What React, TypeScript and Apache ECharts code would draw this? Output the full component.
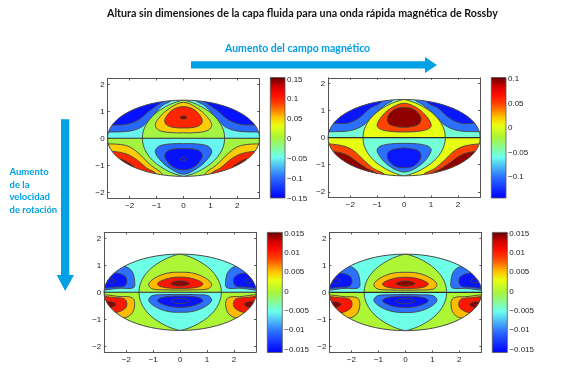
import React, { useEffect, useRef } from "react";
import * as echarts from "echarts";

type Pt = [number, number];
type Region = { pts?: Pt[]; base?: boolean; value: number; half: "top" | "bottom" };

const titleText = "Altura sin dimensiones de la capa fluida para una onda rápida magnética de Rossby";
const magneticText = "Aumento del campo magnético";
const rotationText = "Aumento\nde la\nvelocidad\nde rotación";

const xTicks = [-2, -1, 0, 1, 2];
const yTicks = [-2, -1, 0, 1, 2];
const xLimit = 2.82;
const yLimit = 2.21;
const ellipseAxes: Pt = [2.83, 1.41];

// Colour scale of the colour bars
const colorScale: [number, string][] = [
  [0, "#0000ff"], [0.17, "#2a6cff"], [0.34, "#6cffee"], [0.5, "#a6f53a"], [0.6, "#e8ff12"],
  [0.67, "#ffc400"], [0.78, "#ff4400"], [0.85, "#ff1000"], [0.92, "#d80000"], [1, "#680000"],
];

// Contours, in the axis units of the plots
const lensRight: Pt[] = [
  [0, 1.41], [0.17, 1.37], [0.48, 1.26], [0.86, 1.05], [1.15, 0.82], [1.36, 0.56], [1.49, 0.28], [1.53, 0],
  [1.49, -0.28], [1.36, -0.56], [1.15, -0.82], [0.86, -1.05], [0.48, -1.26], [0.17, -1.37], [0, -1.41],
];

const aBlueEdge: Pt[] = [[-2.78, 0.23], [-1.98, 0.27], [-1.54, 0.43], [-1.17, 0.8], [-0.8, 1.2], [-0.43, 1.42]];
const aDeepEdge: Pt[] = [[-2.59, 0.49], [-2.1, 0.52], [-1.67, 0.68], [-1.3, 0.99], [-0.86, 1.3], [-0.7, 1.42]];
const aOrangeEdge: Pt[] = [[-2.78, -0.21], [-2.35, -0.23], [-1.98, -0.33], [-1.6, -0.62], [-1.23, -0.99], [-0.8, -1.32]];
const aRedEdge: Pt[] = [[-2.59, -0.49], [-2.1, -0.59], [-1.73, -0.8], [-1.36, -1.11], [-1.01, -1.32]];
const aDarkEdge: Pt[] = [[-2.32, -0.78], [-2.05, -0.9], [-1.8, -1.12]];
const aOuterRight: Pt[] = [[0, 1.33], [0.5, 1.12], [0.87, 0.8], [1.05, 0.5], [0.92, 0.3], [0.5, 0.21], [0, 0.2]];
const aInnerRight: Pt[] = [[0, 1.17], [0.37, 1.07], [0.6, 0.86], [0.7, 0.65], [0.62, 0.49], [0.37, 0.4], [0, 0.38]];
const aCoreRight: Pt[] = [[0, 0.83], [0.09, 0.81], [0.13, 0.77], [0.09, 0.73], [0, 0.71]];

const bBlueEdge: Pt[] = [[-2.78, 0.22], [-2, 0.26], [-1.5, 0.47], [-1.14, 0.84], [-0.7, 1.21], [-0.4, 1.4]];
const bDeepEdge: Pt[] = [[-2.56, 0.53], [-2.12, 0.53], [-1.69, 0.72], [-1.26, 1.09], [-0.83, 1.33]];
const bOrangeEdge: Pt[] = [[-2.8, -0.23], [-2.25, -0.31], [-1.88, -0.48], [-1.5, -0.83], [-1.14, -1.14], [-0.7, -1.38]];
const bDarkEdge: Pt[] = [[-2.56, -0.52], [-2.12, -0.64], [-1.75, -0.89], [-1.38, -1.14], [-1.01, -1.35]];
const bOuterRight: Pt[] = [[0, 1.27], [0.35, 1.17], [0.7, 0.93], [0.95, 0.62], [1.0, 0.42], [0.85, 0.3], [0.5, 0.23], [0, 0.21]];
const bInnerRight: Pt[] = [[0, 1.11], [0.3, 1.07], [0.55, 0.88], [0.63, 0.68], [0.55, 0.5], [0.3, 0.41], [0, 0.38]];

const cOuterRight: Pt[] = [[0, 0.74], [0.5, 0.7], [0.95, 0.52], [1.17, 0.3], [1.05, 0.13], [0.6, 0.09], [0, 0.08]];
const cInnerRight: Pt[] = [[0, 0.56], [0.4, 0.52], [0.75, 0.4], [0.85, 0.3], [0.7, 0.2], [0.35, 0.15], [0, 0.14]];
const cCoreRight: Pt[] = [[0, 0.42], [0.2, 0.4], [0.35, 0.32], [0.2, 0.25], [0, 0.23]];
const cSideBlue: Pt[] = [[-3.1, 0.95], [-2.06, 0.95], [-1.79, 0.77], [-1.69, 0.4], [-1.73, 0.17], [-2.2, 0.15], [-3.1, 0.15]];
const cSideDeep: Pt[] = [[-3.1, 0.72], [-2.32, 0.7], [-2.04, 0.58], [-1.98, 0.4], [-2.07, 0.23], [-2.4, 0.19], [-3.1, 0.19]];
const cSideCore: Pt[] = [[-2.57, 0.52], [-2.42, 0.42], [-2.57, 0.34], [-2.72, 0.42]];
const cSideOrange: Pt[] = [[-3.1, -0.95], [-2.1, -0.95], [-1.79, -0.78], [-1.69, -0.41], [-1.79, -0.2], [-2.2, -0.16], [-3.1, -0.16]];
const cSideRed: Pt[] = [[-3.1, -0.74], [-2.35, -0.74], [-2.04, -0.59], [-1.98, -0.41], [-2.07, -0.25], [-2.4, -0.2], [-3.1, -0.2]];
const cSideDark: Pt[] = [[-3.1, -0.42], [-2.78, -0.36], [-2.55, -0.35], [-2.38, -0.44], [-2.55, -0.55], [-3.1, -0.5]];

// Filled levels and colour-bar ticks of each plot
const aLevels = [-0.142, -0.1, -0.05, 0, 0.05, 0.1, 0.146];
const bLevels = [-0.134, -0.1, -0.054, 0.004, 0.049, 0.096];
const cLevels = [-0.0148, -0.0103, -0.0051, 0, 0.0052, 0.0103, 0.0145];
const aBarRange: Pt = [-0.15, 0.154];
const bBarRange: Pt = [-0.143, 0.103];
const cBarRange: Pt = [-0.0158, 0.0152];
const aBarTicks = [-0.15, -0.1, -0.05, 0, 0.05, 0.1, 0.15];
const bBarTicks = [-0.1, -0.05, 0, 0.05, 0.1];
const cBarTicks = [-0.015, -0.01, -0.005, 0, 0.005, 0.01, 0.015];

const mirrored = (half: Pt[]): Pt[] => [...half, ...half.slice(1, -1).reverse().map(([x, y]) => [-x, y] as Pt)];
const flipY = (p: Pt[]): Pt[] => p.map(([x, y]) => [x, -y] as Pt);
const flipX = (p: Pt[]): Pt[] => p.map(([x, y]) => [-x, y] as Pt);
const leftClosed = (edge: Pt[], up: number): Pt[] => [
  [-3.2, edge[0][1]], ...edge, [edge[edge.length - 1][0], up * 1.7], [-3.2, up * 1.7],
];
const both = (p: Pt[], value: number, half: "top" | "bottom"): Region[] => [
  { pts: p, value, half }, { pts: flipX(p), value, half },
];
const closed = (pts: Pt[], value: number, half: "top" | "bottom"): Region => ({ pts, value, half });

const lens = mirrored(lensRight);

const aRegions: Region[] = [
  { base: true, value: aLevels[2], half: "top" },
  ...both(leftClosed(aBlueEdge, 1), aLevels[1], "top"),
  ...both(leftClosed(aDeepEdge, 1), aLevels[0], "top"),
  closed(lens, aLevels[3], "top"),
  closed(mirrored(aOuterRight), aLevels[4], "top"),
  closed(mirrored(aInnerRight), aLevels[5], "top"),
  closed(mirrored(aCoreRight), aLevels[6], "top"),
  { base: true, value: aLevels[3], half: "bottom" },
  ...both(leftClosed(aOrangeEdge, -1), aLevels[4], "bottom"),
  ...both(leftClosed(aRedEdge, -1), aLevels[5], "bottom"),
  ...both(leftClosed(aDarkEdge, -1), aLevels[6], "bottom"),
  closed(lens, aLevels[2], "bottom"),
  closed(flipY(mirrored(aOuterRight)), aLevels[1], "bottom"),
  closed(flipY(mirrored(aInnerRight)), aLevels[0], "bottom"),
  closed(flipY(mirrored(aCoreRight)), aLevels[0], "bottom"),
];

const bRegions: Region[] = [
  { base: true, value: bLevels[2], half: "top" },
  ...both(leftClosed(bBlueEdge, 1), bLevels[1], "top"),
  ...both(leftClosed(bDeepEdge, 1), bLevels[0], "top"),
  closed(lens, bLevels[3], "top"),
  closed(mirrored(bOuterRight), bLevels[4], "top"),
  closed(mirrored(bInnerRight), bLevels[5], "top"),
  { base: true, value: bLevels[3], half: "bottom" },
  ...both(leftClosed(bOrangeEdge, -1), bLevels[4], "bottom"),
  ...both(leftClosed(bDarkEdge, -1), bLevels[5], "bottom"),
  closed(lens, bLevels[2], "bottom"),
  closed(flipY(mirrored(bOuterRight)), bLevels[1], "bottom"),
  closed(flipY(mirrored(bInnerRight)), bLevels[0], "bottom"),
];

const cRegions: Region[] = [
  { base: true, value: cLevels[2], half: "top" },
  ...both(cSideBlue, cLevels[1], "top"),
  ...both(cSideDeep, cLevels[0], "top"),
  ...both(cSideCore, cLevels[0], "top"),
  closed(lens, cLevels[3], "top"),
  closed(mirrored(cOuterRight), cLevels[4], "top"),
  closed(mirrored(cInnerRight), cLevels[5], "top"),
  closed(mirrored(cCoreRight), cLevels[6], "top"),
  { base: true, value: cLevels[3], half: "bottom" },
  ...both(cSideOrange, cLevels[4], "bottom"),
  ...both(cSideRed, cLevels[5], "bottom"),
  ...both(cSideDark, cLevels[6], "bottom"),
  closed(lens, cLevels[2], "bottom"),
  closed(flipY(mirrored(cOuterRight)), cLevels[1], "bottom"),
  closed(flipY(mirrored(cInnerRight)), cLevels[0], "bottom"),
  closed(flipY(mirrored(cCoreRight)), cLevels[0], "bottom"),
];

const panels = [
  { regions: aRegions, range: aBarRange, barTicks: aBarTicks, frame: [107.7, 78.5, 151.6, 119.5], bar: [270.3, 77.5, 14.7, 120.5] },
  { regions: bRegions, range: bBarRange, barTicks: bBarTicks, frame: [328.3, 77.8, 151.7, 119.7], bar: [491.3, 77.5, 14.7, 120.5] },
  { regions: cRegions, range: cBarRange, barTicks: cBarTicks, frame: [104.3, 232.4, 151.7, 119.7], bar: [267.3, 232.4, 15, 120] },
  { regions: cRegions, range: cBarRange, barTicks: cBarTicks, frame: [329.4, 232.4, 152, 120], bar: [492.3, 232.4, 15, 120] },
];

const LINE = "#444";
const AXIS = "#555";
const LABEL = "#222";
const FONT = "Liberation Sans";
const BLUE = "#00a0e6";

const hex = (s: string) => [1, 3, 5].map((i) => parseInt(s.slice(i, i + 2), 16));
function scaleColor(t: number) {
  for (let i = 1; i < colorScale.length; i++) {
    const [t1, c1] = colorScale[i];
    const [t0, c0] = colorScale[i - 1];
    if (t <= t1) {
      const f = (t - t0) / (t1 - t0);
      const a = hex(c0), b = hex(c1);
      return `rgb(${a.map((v, k) => Math.round(v + (b[k] - v) * f)).join(",")})`;
    }
  }
  return colorScale[colorScale.length - 1][1];
}
const signed = (v: number) => String(v).replace("-", "\u2212");

function buildOption() {
  const grid: any[] = [], xAxis: any[] = [], yAxis: any[] = [], series: any[] = [];
  panels.forEach((p) => {
    const g = grid.length;
    grid.push({ left: p.frame[0], top: p.frame[1], width: p.frame[2], height: p.frame[3] });
    const line = { show: true, onZero: false, lineStyle: { color: AXIS, width: 1 } };
    const labelStyle = { color: LABEL, fontSize: 8, fontFamily: FONT, formatter: signed };
    const xIndex = xAxis.length, yIndex = yAxis.length;
    [false, true].forEach((twin) => {
      xAxis.push({
        type: "value", gridIndex: g, min: -xLimit, max: xLimit, position: twin ? "top" : "bottom",
        axisLine: line, splitLine: { show: false },
        axisTick: { show: true, inside: true, length: 2, customValues: xTicks, lineStyle: { color: AXIS } },
        axisLabel: twin ? { show: false } : { ...labelStyle, margin: 3, customValues: xTicks },
      });
      yAxis.push({
        type: "value", gridIndex: g, min: -yLimit, max: yLimit, position: twin ? "right" : "left",
        axisLine: line, splitLine: { show: false },
        axisTick: { show: true, inside: true, length: 2, customValues: yTicks, lineStyle: { color: AXIS } },
        axisLabel: twin ? { show: false } : { ...labelStyle, margin: 3, customValues: yTicks },
      });
    });

    const regionList = p.regions;
    const [lo, hi] = p.range;
    series.push({
      type: "custom", xAxisIndex: xIndex, yAxisIndex: yIndex, clip: false, silent: true,
      data: regionList.map((r, k) => [k, r.value]),
      renderItem: (_: any, api: any) => {
        const r = regionList[api.value(0)];
        const fill = scaleColor((r.value - lo) / (hi - lo));
        const c = api.coord([0, 0]);
        const e = api.coord(ellipseAxes);
        const tl = api.coord([-xLimit, yLimit]);
        const br = api.coord([xLimit, -yLimit]);
        const halfRect = r.half === "top"
          ? { x: tl[0], y: tl[1], width: br[0] - tl[0], height: c[1] - tl[1] }
          : { x: tl[0], y: c[1], width: br[0] - tl[0], height: br[1] - c[1] };
        const shape = r.base
          ? { type: "rect", shape: halfRect, style: { fill } }
          : {
              type: "polygon",
              shape: { points: r.pts!.map((q) => api.coord(q)), smooth: 0.35 },
              style: { fill, stroke: LINE, lineWidth: 0.9 },
            };
        return {
          type: "group",
          clipPath: { type: "ellipse", shape: { cx: c[0], cy: c[1], rx: e[0] - c[0], ry: c[1] - e[1] } },
          children: [{
            type: "group",
            clipPath: { type: "rect", shape: halfRect },
            children: [shape],
          }],
        };
      },
    });
    series.push({
      type: "custom", xAxisIndex: xIndex, yAxisIndex: yIndex, clip: false, silent: true,
      data: [[0, 0]],
      renderItem: (_: any, api: any) => {
        const c = api.coord([0, 0]);
        const e = api.coord(ellipseAxes);
        const w = api.coord([-ellipseAxes[0], 0]);
        return {
          type: "group",
          children: [
            { type: "ellipse", shape: { cx: c[0], cy: c[1], rx: e[0] - c[0], ry: c[1] - e[1] }, style: { fill: "none", stroke: "#4a4a4a", lineWidth: 1 } },
            { type: "line", shape: { x1: w[0], y1: c[1], x2: e[0], y2: c[1] }, style: { stroke: "#2a2a2a", lineWidth: 1.1 } },
          ],
        };
      },
    });

    const gb = grid.length;
    grid.push({ left: p.bar[0], top: p.bar[1], width: p.bar[2], height: p.bar[3] });
    const xb = xAxis.length, yb = yAxis.length;
    xAxis.push({ type: "value", gridIndex: gb, min: 0, max: 1, show: false });
    yAxis.push({
      type: "value", gridIndex: gb, min: lo, max: hi, position: "right",
      axisLine: { show: false }, splitLine: { show: false }, axisTick: { show: false },
      axisLabel: { ...labelStyle, margin: 2, customValues: p.barTicks, hideOverlap: false },
    });
    series.push({
      type: "custom", xAxisIndex: xb, yAxisIndex: yb, clip: false, silent: true,
      data: [[0, lo, 1, hi]],
      renderItem: (_: any, api: any) => {
        const a = api.coord([api.value(0), api.value(3)]);
        const b = api.coord([api.value(2), api.value(1)]);
        return {
          type: "rect",
          shape: { x: a[0], y: a[1], width: b[0] - a[0], height: b[1] - a[1] },
          style: {
            fill: {
              type: "linear", x: 0, y: 1, x2: 0, y2: 0, global: false,
              colorStops: colorScale.map(([offset, color]) => ({ offset, color })),
            },
            stroke: AXIS, lineWidth: 0.8,
          },
        };
      },
    });
  });

  return {
    animation: false,
    backgroundColor: "#fff",
    title: {
      text: titleText, left: 107, top: 7, padding: 0,
      textStyle: { fontFamily: "Lato", fontWeight: "bold", fontSize: 10.7, color: "#111" },
    },
    grid, xAxis, yAxis, series,
    graphic: [
      { type: "text", x: 225, y: 42, style: { text: magneticText, fill: BLUE, fontFamily: "Lato", fontWeight: "bold", fontSize: 10.5 } },
      { type: "text", x: 9.5, y: 165, style: { text: rotationText, fill: BLUE, fontFamily: "Lato", fontWeight: "bold", fontSize: 9.5, lineHeight: 12.7 } },
      { type: "polygon", shape: { points: [[191, 61.2], [425, 61.2], [425, 57], [437, 65], [425, 73], [425, 68.4], [191, 68.4]] }, style: { fill: BLUE } },
      { type: "polygon", shape: { points: [[61, 119.3], [69.3, 119.3], [69.3, 275], [74, 275], [65.2, 291], [56.7, 275], [61, 275]] }, style: { fill: BLUE } },
    ],
  };
}

export default function App() {
  const ref = useRef<HTMLDivElement>(null);
  useEffect(() => {
    const chart = echarts.init(ref.current!, undefined, { renderer: "svg" });
    chart.setOption(buildOption() as any);
    return () => chart.dispose();
  }, []);
  return <div ref={ref} style={{ position: "absolute", left: 0, top: 0, width: 563, height: 374, filter: "blur(0.35px)" }} />;
}
